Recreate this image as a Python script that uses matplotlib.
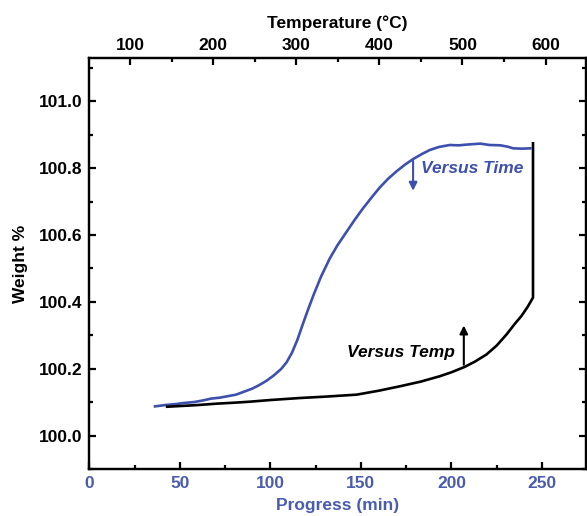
import matplotlib
matplotlib.use("Agg")
import matplotlib.pyplot as plt
from matplotlib.ticker import MultipleLocator, FixedLocator

plt.rcParams['font.family'] = ['Liberation Sans', 'DejaVu Sans']
plt.rcParams['font.weight'] = 'bold'

# Versus Time (blue), x = progress (min)
time_t = [36.3, 42, 48, 52, 58, 63, 67, 72, 77, 81, 86, 90, 94, 98, 102, 106, 109, 112,
          115, 118, 121, 124, 128, 132.8, 137, 142, 146.5, 151.2, 156, 160.4, 165, 169.6,
          174, 178.8, 184, 188, 193, 199, 204, 208, 213, 216, 221, 227, 231, 234, 239, 243.5]
time_w = [100.088, 100.092, 100.095, 100.098, 100.101, 100.106, 100.111, 100.114, 100.119,
          100.123, 100.133, 100.141, 100.152, 100.165, 100.181, 100.200, 100.220, 100.249,
          100.288, 100.335, 100.380, 100.423, 100.476, 100.530, 100.569, 100.609, 100.645,
          100.680, 100.713, 100.742, 100.768, 100.790, 100.809, 100.827, 100.843, 100.854,
          100.863, 100.869, 100.868, 100.870, 100.872, 100.873, 100.869, 100.868, 100.864,
          100.859, 100.858, 100.859]

# Versus Temp (black), plotted on progress scale
temp_t = [43, 50, 60, 70, 80, 88.7, 100, 116.3, 130, 147.6, 160, 171.5, 183, 193.5, 200,
          207.3, 213, 219.3, 225, 230.4, 235, 238.6, 242, 245, 245]
temp_w = [100.087, 100.089, 100.092, 100.096, 100.099, 100.102, 100.107, 100.113, 100.117,
          100.123, 100.135, 100.148, 100.162, 100.178, 100.190, 100.206, 100.222, 100.243,
          100.270, 100.303, 100.335, 100.358, 100.385, 100.413, 100.874]

blue = '#3d50ad'
tickblue = '#4a5cae'

fig = plt.figure(figsize=(5.87, 5.16), dpi=100)
ax = fig.add_axes([0.152, 0.0905, 0.8455, 0.7965])

ax.plot(time_t, time_w, color=blue, lw=1.9, solid_joinstyle='round')
ax.plot(temp_t, temp_w, color='black', lw=1.9, solid_joinstyle='round')

ax.set_xlim(0, 274)
ax.set_ylim(99.9, 101.128)
ax.xaxis.set_major_locator(MultipleLocator(50))
ax.xaxis.set_minor_locator(MultipleLocator(25))
ax.yaxis.set_major_locator(FixedLocator([100.0, 100.2, 100.4, 100.6, 100.8, 101.0]))
ax.yaxis.set_minor_locator(MultipleLocator(0.1))
ax.yaxis.set_major_formatter(plt.FuncFormatter(lambda v, p: f"{v:.1f}"))

for s in ax.spines.values():
    s.set_linewidth(1.6)
ax.tick_params(axis='both', which='both', direction='in', width=1.6, labelsize=12.5)
ax.tick_params(axis='both', which='major', length=5)
ax.tick_params(axis='both', which='minor', length=3)
ax.tick_params(axis='y', which='both', right=True, pad=5)
ax.tick_params(axis='x', which='both', top=False, labelcolor=tickblue, pad=5)
ax.set_ylabel('Weight %', fontsize=12.5, fontweight='bold', labelpad=8)
ax.set_xlabel('Progress (min)', fontsize=12.5, fontweight='bold', color=tickblue, labelpad=5)

ax2 = ax.twiny()
ax2.set_xlim(51, 648)
ax2.xaxis.set_major_locator(MultipleLocator(100))
ax2.xaxis.set_minor_locator(MultipleLocator(50))
ax2.tick_params(axis='x', which='both', direction='in', width=1.6, labelsize=12.5, pad=4)
ax2.tick_params(axis='x', which='major', length=5)
ax2.tick_params(axis='x', which='minor', length=3)
for s in ax2.spines.values():
    s.set_linewidth(1.6)
ax2.set_xlabel('Temperature (°C)', fontsize=12.5, fontweight='bold', labelpad=7)

# annotations
ax.annotate('', xy=(178.8, 100.724), xytext=(178.8, 100.830),
            arrowprops=dict(arrowstyle='-|>', color=blue, lw=1.5, mutation_scale=12))
ax.text(183, 100.80, 'Versus Time', color=blue, fontsize=12.5, fontweight='bold',
        fontstyle='italic', va='center', ha='left')
ax.annotate('', xy=(206.8, 100.338), xytext=(206.8, 100.204),
            arrowprops=dict(arrowstyle='-|>', color='black', lw=1.5, mutation_scale=12))
ax.text(202, 100.248, 'Versus Temp', color='black', fontsize=12.5, fontweight='bold',
        fontstyle='italic', va='center', ha='right')

fig.savefig('out.png', dpi=100)
